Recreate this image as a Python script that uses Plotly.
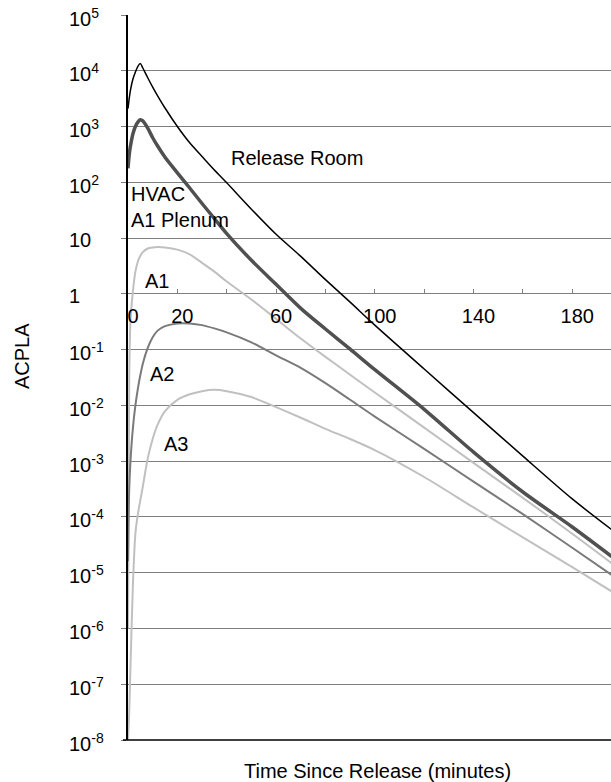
import plotly.graph_objects as go

# Time since release (minutes)
time_min = [0, 0.5, 1, 2, 3, 4, 5, 6, 8, 10, 12, 15, 20, 25, 30, 35, 40,
            50, 60, 70, 80, 90, 100, 120, 140, 160, 180, 196]

release_room = [2.1e3, 3.2e3, 4.5e3, 7.1e3, 9.5e3, 1.2e4, 1.35e4, 1.12e4, 7.5e3,
                5.1e3, 3.56e3, 2.15e3, 1.0e3, 5.1e2, 2.9e2, 1.66e2, 98,
                33, 11.7, 4.7, 1.8, 0.71, 0.275, 0.045, 7.4e-3, 1.23e-3, 2.1e-4, 5.9e-5]

hvac_a1_plenum = [178, 316, 447, 741, 1000, 1200, 1320, 1260, 933,
                  630, 447, 282, 148, 79, 41.7, 22.4, 12,
                  4.0, 1.48, 0.55, 0.234, 0.102, 0.0437, 8.5e-3, 1.45e-3, 2.8e-4, 6.6e-5, 1.95e-5]

a1 = [1e-6, 0.032, 0.32, 1.12, 2.5, 3.8, 4.8, 5.6, 6.5,
      6.8, 6.9, 6.8, 6.2, 5.1, 3.6, 2.5, 1.66,
      0.79, 0.355, 0.158, 0.074, 0.0355, 0.017, 4.0e-3, 9.3e-4, 2.2e-4, 5.0e-5, 1.48e-5]

a2 = [1.6e-5, 3.2e-4, 1e-3, 4e-3, 0.01, 0.02, 0.035, 0.056, 0.107,
      0.166, 0.219, 0.263, 0.295, 0.295, 0.275, 0.24, 0.204,
      0.135, 0.079, 0.047, 0.025, 0.0126, 6.3e-3, 1.66e-3, 4.3e-4, 1.12e-4, 2.8e-5, 9.1e-6]

a3 = [1.0e-8, 3.2e-8, 2.0e-7, 6.3e-6, 5.0e-5, 1.12e-4, 2.0e-4, 3.5e-4, 1.12e-3,
      2.5e-3, 4.5e-3, 7.9e-3, 0.0126, 0.0158, 0.018, 0.019, 0.018,
      0.0141, 9.3e-3, 6.0e-3, 3.8e-3, 2.5e-3, 1.58e-3, 5.2e-4, 1.48e-4, 4.3e-5, 1.26e-5, 4.6e-6]

x_tick_vals = [0, 20, 60, 100, 140, 180]
x_tick_text = ["0", "20", "60", "100", "140", "180"]

y_tick_exps = [5, 4, 3, 2, 1, 0, -1, -2, -3, -4, -5, -6, -7, -8]
y_tick_text = ["10<sup>5</sup>", "10<sup>4</sup>", "10<sup>3</sup>", "10<sup>2</sup>", "10", "1",
               "10<sup>-1</sup>", "10<sup>-2</sup>", "10<sup>-3</sup>", "10<sup>-4</sup>",
               "10<sup>-5</sup>", "10<sup>-6</sup>", "10<sup>-7</sup>", "10<sup>-8</sup>"]

series_labels = ["Release Room", "HVAC<br>A1 Plenum", "A1", "A2", "A3"]
label_x = [41, 0.4, 6.1, 8.1, 13.7]
label_logy = [2.44, 1.55, 0.234, -1.44, -2.70]

FONT = "Liberation Sans, Arial, sans-serif"

fig = go.Figure()
series = [
    (release_room, "#000000", 1.5),
    (hvac_a1_plenum, "#505050", 3.5),
    (a1, "#c0c0c0", 2),
    (a2, "#7a7a7a", 2),
    (a3, "#c0c0c0", 2),
]
for vals, col, w in series:
    fig.add_trace(go.Scatter(x=time_min, y=vals, mode="lines",
                             line=dict(color=col, width=w, shape="spline", smoothing=0.8),
                             showlegend=False, hoverinfo="skip"))

annotations = []
for e, t in zip(y_tick_exps, y_tick_text):
    annotations.append(dict(x=-0.1263, xref="paper", y=e, yref="y", text=t,
                            xanchor="left", yanchor="middle", yshift=-2, showarrow=False,
                            font=dict(family=FONT, size=20, color="#000")))
for t, x, y in zip(series_labels, label_x, label_logy):
    annotations.append(dict(x=x, xref="x", y=y, yref="y", text=t, align="left",
                            xanchor="left", yanchor="middle", showarrow=False,
                            font=dict(family=FONT, size=20, color="#000")))
annotations.append(dict(x=(22 - 128) / 483, xref="paper", y=1 - (356 - 15) / 725, yref="paper",
                        text="ACPLA", textangle=-90, showarrow=False,
                        xanchor="center", yanchor="middle",
                        font=dict(family=FONT, size=20, color="#000")))
annotations.append(dict(x=(377 - 128) / 483, xref="paper", y=-(771 - 740) / 725, yref="paper",
                        text="Time Since Release (minutes)", showarrow=False,
                        xanchor="center", yanchor="middle",
                        font=dict(family=FONT, size=20, color="#000")))

fig.update_layout(
    width=611, height=782,
    margin=dict(l=128, r=0, t=15, b=42),
    paper_bgcolor="white", plot_bgcolor="white",
    annotations=annotations,
    shapes=[dict(type="line", xref="paper", yref="paper", x0=-5 / 483, x1=1, y0=0, y1=0,
                 line=dict(color="#000", width=1.5))],
    xaxis=dict(range=[0, 195.7], anchor="free", position=8 / 13,
               tickmode="array", tickvals=x_tick_vals, ticktext=x_tick_text,
               ticks="inside", ticklen=5, tickcolor="#7f7f7f", tickwidth=1,
               minor=dict(tickmode="linear", tick0=0, dtick=20, ticks="inside",
                          ticklen=5, tickcolor="#7f7f7f", showgrid=False),
               ticklabelshift=5, ticklabelstandoff=8,
               showgrid=False, zeroline=False, showline=False,
               tickfont=dict(family=FONT, size=20, color="#000")),
    yaxis=dict(type="log", range=[-8, 5], domain=[0, 1], dtick=1,
               showgrid=True, gridcolor="#7f7f7f", gridwidth=1,
               ticks="outside", ticklen=5, tickcolor="#7f7f7f",
               showticklabels=False, showline=True, linecolor="#000", linewidth=1.5,
               zeroline=False),
)

fig.write_html("out.html", config={"displayModeBar": False},
               post_script="document.body.style.margin='0';document.body.style.overflow='hidden';")
